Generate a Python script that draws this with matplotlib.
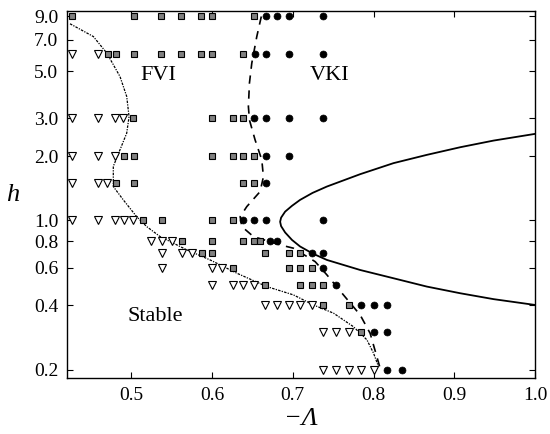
import matplotlib
matplotlib.use("Agg")
import matplotlib.pyplot as plt
from matplotlib.ticker import FixedLocator, FixedFormatter, NullLocator

plt.rcParams['font.family'] = ['Liberation Serif', 'DejaVu Serif']
plt.rcParams['mathtext.fontset'] = 'stix'

# ---- data: stable (triangles) ----
stable_x = [0.427, 0.459,
            0.427, 0.459, 0.480, 0.490,
            0.427, 0.459, 0.480,
            0.427, 0.459, 0.470,
            0.427, 0.459, 0.480, 0.491, 0.502,
            0.525, 0.538, 0.550,
            0.538, 0.5625, 0.575,
            0.538, 0.600, 0.612,
            0.600, 0.626, 0.638, 0.652,
            0.666, 0.680, 0.695, 0.709, 0.724,
            0.738, 0.754, 0.769,
            0.738, 0.754, 0.769, 0.785, 0.801]
stable_h = [6.0, 6.0,
            3.0, 3.0, 3.0, 3.0,
            2.0, 2.0, 2.0,
            1.5, 1.5, 1.5,
            1.0, 1.0, 1.0, 1.0, 1.0,
            0.8, 0.8, 0.8,
            0.7, 0.7, 0.7,
            0.6, 0.6, 0.6,
            0.5, 0.5, 0.5, 0.5,
            0.4, 0.4, 0.4, 0.4, 0.4,
            0.3, 0.3, 0.3,
            0.2, 0.2, 0.2, 0.2, 0.2]

# ---- data: FVI (grey squares) ----
fvi_x = [0.427, 0.503, 0.5365, 0.561, 0.586, 0.600, 0.652,
         0.471, 0.481, 0.503, 0.5365, 0.561, 0.586, 0.600, 0.638,
         0.5026, 0.600, 0.626, 0.638,
         0.491, 0.503, 0.600, 0.626, 0.638, 0.652,
         0.481, 0.503, 0.638, 0.652,
         0.514, 0.538, 0.600, 0.626,
         0.5625, 0.600, 0.638, 0.652, 0.6595,
         0.587, 0.600, 0.666, 0.695, 0.709,
         0.626, 0.695, 0.709, 0.724,
         0.666, 0.709, 0.724, 0.738,
         0.738, 0.769,
         0.785]
fvi_h = [9.0] * 7 + [6.0] * 8 + [3.0] * 4 + [2.0] * 6 + [1.5] * 4 + \
        [1.0] * 4 + [0.8] * 5 + [0.7] * 5 + [0.6] * 4 + [0.5] * 4 + \
        [0.4] * 2 + [0.3]

# ---- data: VKI (black circles) ----
vki_x = [0.667, 0.680, 0.695, 0.738,
         0.653, 0.667, 0.695, 0.738,
         0.652, 0.667, 0.695, 0.738,
         0.667, 0.695,
         0.667,
         0.638, 0.652, 0.667, 0.738,
         0.672, 0.680,
         0.724, 0.738,
         0.738,
         0.754,
         0.785, 0.801, 0.817,
         0.801, 0.817,
         0.817, 0.835]
vki_h = [9.0] * 4 + [6.0] * 4 + [3.0] * 4 + [2.0] * 2 + [1.5] + \
        [1.0] * 4 + [0.8] * 2 + [0.7] * 2 + [0.6] + [0.5] + \
        [0.4] * 3 + [0.3] * 2 + [0.2] * 2

# ---- curves ----
solid_x = [1.000, 0.9486, 0.9074, 0.866, 0.8247, 0.7834, 0.7422, 0.7245, 0.709, 0.699, 0.6905, 0.6855,
           0.6843,
           0.6855, 0.6905, 0.699, 0.709, 0.7245, 0.7422, 0.7834, 0.8247, 0.866, 0.9074, 0.9486, 1.000]
solid_h = [2.54, 2.363, 2.20, 2.026, 1.853, 1.645, 1.44, 1.345, 1.247, 1.17, 1.099, 1.03,
           0.985,
           0.94, 0.878, 0.81, 0.755, 0.70, 0.653, 0.586, 0.536, 0.49, 0.456, 0.428, 0.402]

dashed_x = [0.661, 0.6554, 0.6492, 0.6463, 0.645, 0.6463, 0.6533, 0.6616, 0.6636, 0.6595,
            0.643, 0.6348, 0.6369, 0.6512, 0.6843, 0.7008, 0.7277, 0.7422, 0.7627,
            0.7834, 0.7958, 0.8041, 0.8082]
dashed_h = [9.0, 7.25, 5.44, 4.39, 3.41, 2.95, 2.38, 1.92, 1.60, 1.364,
            1.16, 1.04, 0.935, 0.84, 0.768, 0.741, 0.641, 0.556, 0.448,
            0.361, 0.296, 0.23, 0.203]

dotted_x = [0.4241, 0.453, 0.4696, 0.486, 0.4943, 0.4972, 0.4943, 0.486, 0.4777, 0.4777,
            0.4901, 0.5067, 0.5191, 0.5356, 0.5687, 0.5976, 0.6307, 0.6678, 0.7008,
            0.7256, 0.7504, 0.7751, 0.7918, 0.800, 0.8061]
dotted_h = [8.32, 7.25, 6.07, 4.71, 3.80, 3.06, 2.56, 2.14, 1.79, 1.44,
            1.247, 1.04, 0.935, 0.84, 0.728, 0.653, 0.566, 0.49, 0.448,
            0.402, 0.368, 0.318, 0.276, 0.239, 0.207]

xticks = [0.5, 0.6, 0.7, 0.8, 0.9, 1.0]
xtick_labels = ['0.5', '0.6', '0.7', '0.8', '0.9', '1.0']
yticks = [0.2, 0.4, 0.6, 0.8, 1.0, 2.0, 3.0, 5.0, 7.0, 9.0]
ytick_labels = ['0.2', '0.4', '0.6', '0.8', '1.0', '2.0', '3.0', '5.0', '7.0', '9.0']

fig = plt.figure(figsize=(5.5, 4.34), dpi=100)
ax = fig.add_axes([0.1213, 0.1279, 0.8515, 0.8468])

ax.plot(solid_x, solid_h, color='black', lw=1.3, zorder=2)
ax.plot(dashed_x, dashed_h, color='black', lw=1.2, ls=(0, (5, 4)), zorder=2)
ax.plot(dotted_x, dotted_h, color='black', lw=0.9, ls=(0, (2, 1, 1, 1)), zorder=2)

ax.plot(fvi_x, fvi_h, ls='none', marker='s', ms=4.0, mfc='#808080', mec='black', mew=0.8, zorder=3)
ax.plot(stable_x, stable_h, ls='none', marker='v', ms=5.5, mfc='white', mec='black', mew=0.8, zorder=3)
ax.plot(vki_x, vki_h, ls='none', marker='o', ms=5.0, mfc='black', mec='black', mew=0.5, zorder=3)

ax.set_yscale('log')
ax.set_xlim(0.42, 1.0)
ax.set_ylim(0.182, 9.55)

ax.xaxis.set_major_locator(FixedLocator(xticks))
ax.xaxis.set_major_formatter(FixedFormatter(xtick_labels))
ax.yaxis.set_major_locator(FixedLocator(yticks))
ax.yaxis.set_major_formatter(FixedFormatter(ytick_labels))
ax.yaxis.set_minor_locator(NullLocator())
ax.xaxis.set_minor_locator(NullLocator())

ax.tick_params(direction='in', length=4, width=0.8, top=True, right=True, labelsize=14, pad=6)
for s in ax.spines.values():
    s.set_linewidth(1.0)

ax.set_ylabel('h', fontsize=19, fontstyle='italic', rotation=0, ha='center', va='center')
ax.yaxis.set_label_coords(-0.115, 0.5)
ax.set_xlabel('\u2212\u039b', fontsize=19, fontstyle='italic', va='center')
ax.xaxis.set_label_coords(0.5, -0.11)

ax.text(0.533, 4.75, 'FVI', fontsize=16, ha='center', va='center')
ax.text(0.745, 4.75, 'VKI', fontsize=16, ha='center', va='center')
ax.text(0.5295, 0.355, 'Stable', fontsize=16, ha='center', va='center')

fig.savefig('out.png', dpi=100)
